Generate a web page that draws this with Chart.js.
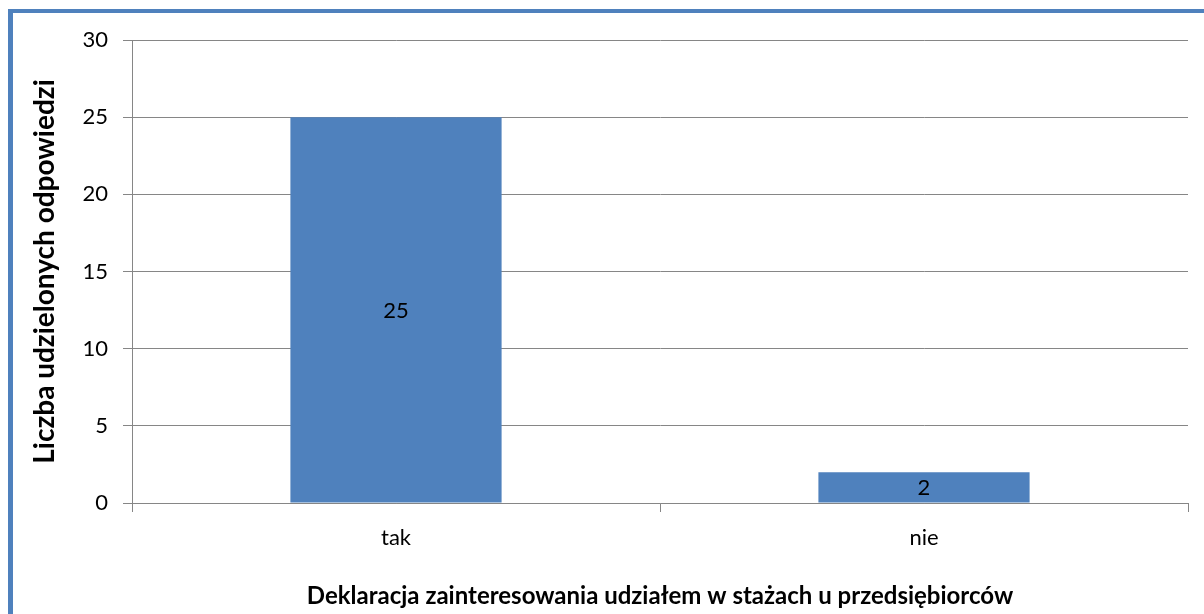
<!DOCTYPE html>
<html><head><meta charset="utf-8">
<script src="https://cdn.jsdelivr.net/npm/chart.js@4/dist/chart.umd.min.js"></script>
<style>html,body{margin:0;padding:0;background:#fff;overflow:hidden}canvas{display:block}</style>
</head><body>
<canvas id="c" width="1204" height="614"></canvas>
<script>
const categories = ["tak", "nie"];
const values = [25, 2];
const yTitle = "Liczba udzielonych odpowiedzi";
const xTitle = "Deklaracja zainteresowania udziałem w stażach u przedsiębiorców";
const FONT = "Lato, 'Open Sans', sans-serif";

const framePlugin = {
  id: 'frame',
  beforeDraw(chart) {
    const ctx = chart.ctx;
    ctx.save();
    ctx.fillStyle = '#fff';
    ctx.fillRect(0, 0, chart.width, chart.height);
    ctx.fillStyle = '#4F81BD';
    ctx.fillRect(8, 9, 5, chart.height - 9);
    ctx.fillRect(8, 9, chart.width - 8, 4);
    ctx.restore();
  }
};
const labelPlugin = {
  id: 'vals',
  afterDatasetsDraw(chart) {
    const ctx = chart.ctx;
    const meta = chart.getDatasetMeta(0);
    ctx.save();
    ctx.font = "22px " + FONT;
    ctx.fillStyle = '#000';
    ctx.textAlign = 'center';
    ctx.textBaseline = 'middle';
    meta.data.forEach((bar, i) => {
      const y = (bar.y + bar.base) / 2 + 1;
      ctx.fillText(String(values[i]), bar.x, y);
    });
    ctx.restore();
  }
};

new Chart(document.getElementById('c'), {
  type: 'bar',
  data: {
    labels: categories,
    datasets: [{
      data: values,
      backgroundColor: '#4F81BD',
      borderWidth: 0,
      categoryPercentage: 1.0,
      barPercentage: 0.4
    }]
  },
  options: {
    responsive: false,
    animation: false,
    layout: { padding: { top: 40, right: 16, left: 0, bottom: 0 } },
    plugins: { legend: { display: false }, tooltip: { enabled: false } },
    scales: {
      y: {
        min: 0, max: 30,
        ticks: { stepSize: 5, color: '#000', font: { family: FONT, size: 22 }, padding: 15 },
        grid: { color: '#868686', lineWidth: 1, tickLength: 9 },
        border: { color: '#868686' },
        title: { display: true, text: yTitle, color: '#000', font: { family: FONT, size: 28, weight: 'bold' }, padding: { top: 28, bottom: 28 } },
        afterFit(s) { s.width = 132; }
      },
      x: {
        ticks: { color: '#000', font: { family: FONT, size: 22 }, padding: 13 },
        grid: { offset: true, drawOnChartArea: false, drawTicks: true, tickLength: 9, color: '#868686' },
        border: { color: '#868686' },
        title: { display: true, text: xTitle, color: '#000', font: { family: FONT, size: 24, weight: 'bold' }, padding: { top: 3, bottom: 3 } },
        afterFit(s) { s.height = 111; }
      }
    }
  },
  plugins: [framePlugin, labelPlugin]
});
</script>
</body></html>
